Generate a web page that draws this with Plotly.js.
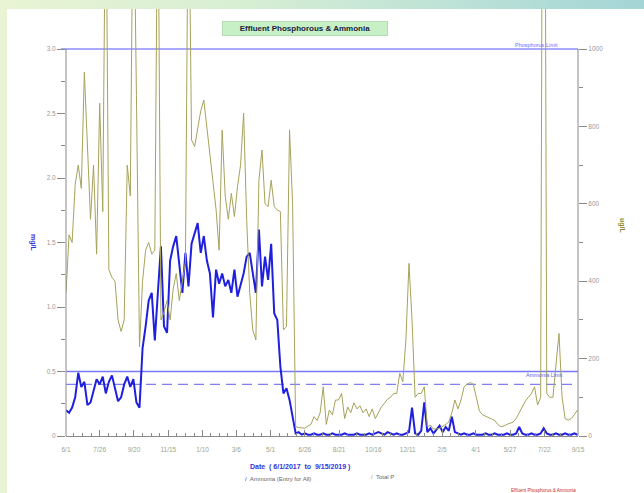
<!DOCTYPE html>
<html>
<head>
<meta charset="utf-8">
<script src="https://cdn.plot.ly/plotly-3.0.1.min.js"></script>
<style>
  html, body { margin:0; padding:0; }
  body { width:644px; height:493px; overflow:hidden;
    background: linear-gradient(90deg, #e8f4d4 0%, #d9efd3 35%, #bde2d7 70%, #a3d5d6 100%); position:relative; }
  #chart { position:absolute; left:7px; top:9px; width:637px; height:484px; background:#fff; }
</style>
</head>
<body>
<div id="chart"></div>
<script>
// ---- data (sampled every 5 days from 6/1/2017) ----
const sampleStart = '2017-06-01';
const sampleStepDays = 5;

const totalP = [
  369,520,500,650,700,640,940,750,560,700,
  470,860,580,1500,430,410,400,300,270,300,
  700,620,1500,880,230,400,480,500,470,480,
  1500,300,320,350,300,380,420,350,400,450,
  1500,765,748,800,840,868,800,720,653,586,
  480,790,620,560,627,567,644,700,834,560,
  369,274,248,661,739,600,593,661,593,584,
  580,274,283,791,600,24,22,20,20,26,
  30,50,40,60,127,30,67,55,93,93,
  110,45,75,60,86,70,78,60,70,50,
  70,45,60,75,85,95,100,110,110,162,
  140,248,446,300,100,110,110,127,24,28,
  18,18,20,24,30,36,60,93,70,93,
  127,134,138,134,100,65,55,52,48,44,
  40,30,24,26,30,33,36,45,59,75,
  90,100,110,127,80,100,2600,110,100,100,
  180,265,100,45,41,45,55,67
];

const ammonia = [
  0.20,0.18,0.22,0.30,0.49,0.38,0.42,0.24,0.26,0.36,
  0.44,0.40,0.46,0.33,0.42,0.47,0.38,0.27,0.30,0.40,
  0.46,0.38,0.44,0.26,0.22,0.68,0.85,1.05,1.11,0.74,
  1.11,1.47,0.85,0.80,1.36,1.47,1.55,1.31,1.11,1.42,
  1.16,1.49,1.57,1.65,1.42,1.55,1.36,1.26,0.92,1.29,
  1.18,1.26,1.16,1.21,1.11,1.29,1.08,1.16,1.26,1.39,
  1.42,1.26,1.11,1.60,1.16,1.39,1.21,1.49,0.95,0.90,
  0.54,0.33,0.37,0.28,0.15,0.02,0.03,0.01,0.02,0.01,
  0.01,0.02,0.01,0.01,0.02,0.01,0.01,0.02,0.01,0.01,
  0.01,0.02,0.01,0.01,0.01,0.02,0.01,0.01,0.01,0.02,
  0.01,0.02,0.03,0.02,0.01,0.03,0.02,0.01,0.02,0.01,
  0.01,0.02,0.03,0.22,0.02,0.01,0.04,0.26,0.03,0.06,
  0.02,0.05,0.08,0.03,0.07,0.04,0.15,0.03,0.02,0.01,
  0.02,0.01,0.01,0.02,0.01,0.01,0.01,0.02,0.01,0.01,
  0.02,0.01,0.01,0.01,0.02,0.01,0.01,0.02,0.07,0.02,
  0.01,0.01,0.02,0.01,0.01,0.02,0.06,0.02,0.01,0.01,
  0.02,0.01,0.01,0.02,0.01,0.01,0.02,0.01
];

const ammoniaLimit = 0.5;
const ammoniaTarget = 0.4;
const phosphorusLimit = 1000;

const xTickDates = ['2017-06-01','2017-07-26','2017-09-20','2017-11-15','2018-01-10','2018-03-06',
  '2018-05-01','2018-06-26','2018-08-21','2018-10-16','2018-12-11','2019-02-05',
  '2019-04-01','2019-05-27','2019-07-22','2019-09-15'];
const xTickLabels = ['6/1','7/26','9/20','11/15','1/10','3/6','5/1','6/26','8/21','10/16',
  '12/11','2/5','4/1','5/27','7/22','9/15'];

const leftTickVals = [0,0.5,1.0,1.5,2.0,2.5,3.0];
const leftTickText = ['0','0.5','1.0','1.5','2.0','2.5','3.0'];
const rightTickVals = [0,200,400,600,800,1000];
const rightTickText = ['0','200','400','600','800','1000'];

// ---- build ----
const DAY = 864e5;
const t0 = Date.parse(sampleStart + 'T00:00:00Z');
const iso = ms => new Date(ms).toISOString().slice(0,10);
const dates = totalP.map((_, i) => iso(t0 + i*sampleStepDays*DAY));

const minorX = [];
for (let k = 0; k < xTickDates.length - 1; k++) {
  const a = Date.parse(xTickDates[k]+'T00:00:00Z'), b = Date.parse(xTickDates[k+1]+'T00:00:00Z');
  for (let q = 1; q < 4; q++) minorX.push(iso(a + (b-a)*q/4));
}
const minorL = [], minorR = [];
for (let k = 0; k < leftTickVals.length-1; k++) minorL.push((leftTickVals[k]+leftTickVals[k+1])/2);
for (let k = 0; k < rightTickVals.length-1; k++) minorR.push((rightTickVals[k]+rightTickVals[k+1])/2);

const plotH = 427, axisPx = 387; // pixel height of plot area vs. scaled axis span
const leftTop = leftTickVals[leftTickVals.length-1] * plotH / axisPx;
const rightTop = rightTickVals[rightTickVals.length-1] * plotH / axisPx;

const FONT = 'Arial, "Liberation Sans", sans-serif';
const axisGray = '#8a8a8a';

const traces = [
  { x: dates, y: totalP, yaxis: 'y2', type: 'scatter', mode: 'lines', name: 'Total P',
    line: { color: '#a6a35a', width: 1 }, hoverinfo: 'skip' },
  { x: dates, y: ammonia, yaxis: 'y', type: 'scatter', mode: 'lines', name: 'Ammonia (Entry for All)',
    line: { color: '#1f1fe0', width: 2 }, hoverinfo: 'skip' }
];

function ann(o) { return Object.assign({ showarrow: false, xanchor: 'center', yanchor: 'middle' }, o); }

const layout = {
  width: 637, height: 484,
  margin: { l: 59, r: 66, t: 0, b: 57 },
  paper_bgcolor: '#ffffff', plot_bgcolor: '#ffffff',
  showlegend: false,
  font: { family: FONT, size: 7, color: '#888' },
  xaxis: {
    type: 'date', range: [xTickDates[0], xTickDates[xTickDates.length-1]],
    tickmode: 'array', tickvals: xTickDates, ticktext: xTickLabels,
    ticks: 'inside', ticklen: 6, tickcolor: axisGray, tickwidth: 1,
    minor: { tickmode: 'array', tickvals: minorX, ticks: 'inside', ticklen: 3, tickcolor: axisGray },
    showline: true, linecolor: axisGray, linewidth: 1,
    showgrid: false, zeroline: false,
    tickfont: { family: FONT, size: 6.5, color: '#9aa58a' },
    ticklabelstandoff: 7
  },
  yaxis: {
    range: [0, leftTop], tickmode: 'array', tickvals: leftTickVals, ticktext: leftTickText,
    ticks: 'outside', ticklen: 8, tickcolor: axisGray,
    minor: { tickmode: 'array', tickvals: minorL, ticks: 'outside', ticklen: 4, tickcolor: axisGray },
    showline: false, showgrid: false, zeroline: false,
    tickfont: { family: FONT, size: 6.5, color: '#999' }
  },
  yaxis2: {
    range: [0, rightTop], overlaying: 'y', side: 'right',
    tickmode: 'array', tickvals: rightTickVals, ticktext: rightTickText,
    ticks: 'outside', ticklen: 8, tickcolor: axisGray,
    minor: { tickmode: 'array', tickvals: minorR, ticks: 'outside', ticklen: 4, tickcolor: axisGray },
    showline: false, showgrid: false, zeroline: false,
    tickfont: { family: FONT, size: 6.5, color: '#999' }
  },
  shapes: [
    { type: 'line', xref: 'paper', x0: 0, x1: 0, yref: 'y', y0: 0, y1: leftTickVals[leftTickVals.length-1],
      line: { color: axisGray, width: 1 } },
    { type: 'line', xref: 'paper', x0: 1, x1: 1, yref: 'y2', y0: 0, y1: rightTickVals[rightTickVals.length-1],
      line: { color: axisGray, width: 1 } },
    { type: 'line', xref: 'paper', x0: -0.01, x1: 1, yref: 'y2', y0: phosphorusLimit, y1: phosphorusLimit,
      line: { color: 'rgb(140,140,255)', width: 1.6 }, layer: 'below' },
    { type: 'line', xref: 'paper', x0: 0, x1: 1, yref: 'y', y0: ammoniaLimit, y1: ammoniaLimit,
      line: { color: 'rgb(120,120,255)', width: 1.5 }, layer: 'below' },
    { type: 'line', xref: 'paper', x0: 0, x1: 1, yref: 'y', y0: ammoniaTarget, y1: ammoniaTarget,
      line: { color: 'rgb(128,128,238)', width: 1.2, dash: '10px,6px' }, layer: 'below' }
  ],
  annotations: [
    ann({ text: '<b>Effluent Phosphorous &amp; Ammonia</b>', xref: 'paper', yref: 'paper', x: 0.467, y: 0.9555,
      bgcolor: '#c8f0c6', bordercolor: '#b5dcb3', borderwidth: 1, borderpad: 2,
      width: 160, font: { family: FONT, size: 8, color: '#1c2340' } }),
    ann({ text: 'Phosphorus Limit', xref: 'paper', yref: 'y2', x: 0.918, y: phosphorusLimit, yshift: 4,
      font: { family: FONT, size: 5.5, color: '#6d6dff' } }),
    ann({ text: 'Ammonia Limit', xref: 'paper', yref: 'y', x: 0.934, y: ammoniaLimit, yshift: -3,
      font: { family: FONT, size: 5.5, color: '#5d5de8' } }),
    ann({ text: '<b>mg/L</b>', xref: 'paper', yref: 'paper', x: -0.0645, y: 0.452, textangle: 90,
      font: { family: FONT, size: 7, color: '#3535e0' } }),
    ann({ text: '<b>ug/L</b>', xref: 'paper', yref: 'paper', x: 1.086, y: 0.494, textangle: 90,
      font: { family: FONT, size: 7, color: '#8c8a2c' } }),
    ann({ text: '<b>Date  ( 6/1/2017  to  9/15/2019 )</b>', xref: 'paper', yref: 'paper', x: 0.457, y: -0.0726,
      font: { family: FONT, size: 7, color: '#3333dd' } }),
    ann({ text: '<span style="color:#2020e0">/</span>  Ammonia (Entry for All)', xref: 'paper', yref: 'paper',
      x: 0.414, y: -0.1007, font: { family: FONT, size: 6, color: '#666' } }),
    ann({ text: '<span style="color:#9a983a">/</span>  Total P', xref: 'paper', yref: 'paper',
      x: 0.619, y: -0.096, font: { family: FONT, size: 6, color: '#666' } }),
    ann({ text: 'Effluent Phosphorus &amp; Ammonia', xref: 'paper', yref: 'paper', x: 0.932, y: -0.1265,
      font: { family: FONT, size: 4.5, color: '#cc2a2a' } })
  ]
};

Plotly.newPlot('chart', traces, layout, { staticPlot: true, displayModeBar: false });
</script>
</body>
</html>
